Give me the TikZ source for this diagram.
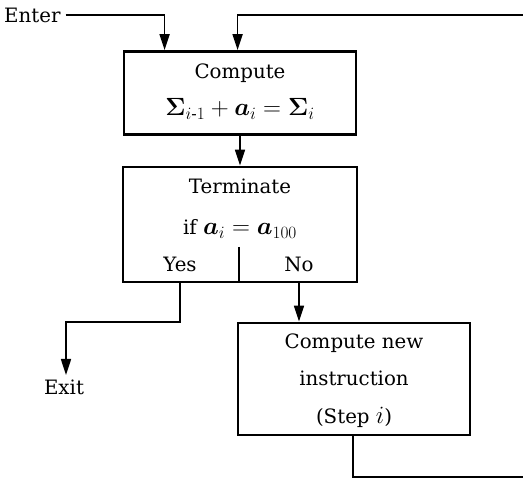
\documentclass[tikz,border=0pt]{standalone}
\usepackage{amsmath}
\usepackage{bm}
\usepackage{fontspec}
\setmainfont{DejaVu Serif}
\usetikzlibrary{arrows.meta,calc}
\newcommand{\mathsz}{\fontsize{23}{27}\selectfont}
\begin{document}
\begin{tikzpicture}[x=1pt,y=-1pt,
  every node/.style={font=\fontsize{19.8}{23}\selectfont},
  box/.style={draw,line width=2.8pt,inner sep=0pt,minimum width=#1},
  txt/.style={inner sep=0pt,anchor=base},
  flow/.style={line width=1.7pt},
  arr/.style={flow,-{Triangle[length=16pt,width=10pt]}}]
\useasboundingbox (0,0) rectangle (523,478);

% boxes
\node[box=232,minimum height=83] (compute) at (240,93) {};
\node[box=234,minimum height=115] (term) at (240,224.5) {};
\node[box=232,minimum height=112] (newinstr) at (354,379) {};

% texts inside the boxes
\node[txt] (t1) at (240,79) {Compute};
\node[txt] (t2) at (240,116) {\mathsz $\bm{\Sigma}_{i\text{-}1}+\bm{a}_{i}=\bm{\Sigma}_{i}$};
\node[txt] (t3) at (240,194) {Terminate};
\node[txt] (t4) at (240,235) {if {\mathsz $\bm{a}_{i}=\bm{a}_{100}$}};
\node[txt] (yes) at (180,272) {Yes};
\node[txt] (no) at (299,272) {No};
\node[txt] (t5) at (354,349) {Compute new};
\node[txt] (t6) at (354,386) {instruction};
\node[txt] (t7) at (354,424) {(Step {\mathsz $i$})};

% entry and exit labels
\node[anchor=west,inner sep=0pt] (enter) at (4,15) {Enter};
\node[txt] (exit) at (64,395) {Exit};

% free ends of the return path
\coordinate (retA) at (524,477);
\coordinate (retB) at (524,15);
\coordinate (yesturn) at (66,322);
\coordinate (divtop) at (239,247);

% divider between Yes and No
\draw[flow] (divtop) -- (divtop |- term.south);

% connectors
\draw[arr] ([xshift=5pt]enter.east) -| ($(compute.north west)+(42,0)$);
\draw[arr] (retB) -| ($(compute.north west)+(115,0)$);
\draw[arr] (compute.south) -- (term.north);
\draw[arr] (yes |- term.south) |- (yesturn) -- ($(yesturn)+(0,53)$);
\draw[arr] (no |- term.south) -- (no |- newinstr.north);
\draw[flow] ($(newinstr.south)+(-1,0)$) |- (retA);
\end{tikzpicture}
\end{document}
